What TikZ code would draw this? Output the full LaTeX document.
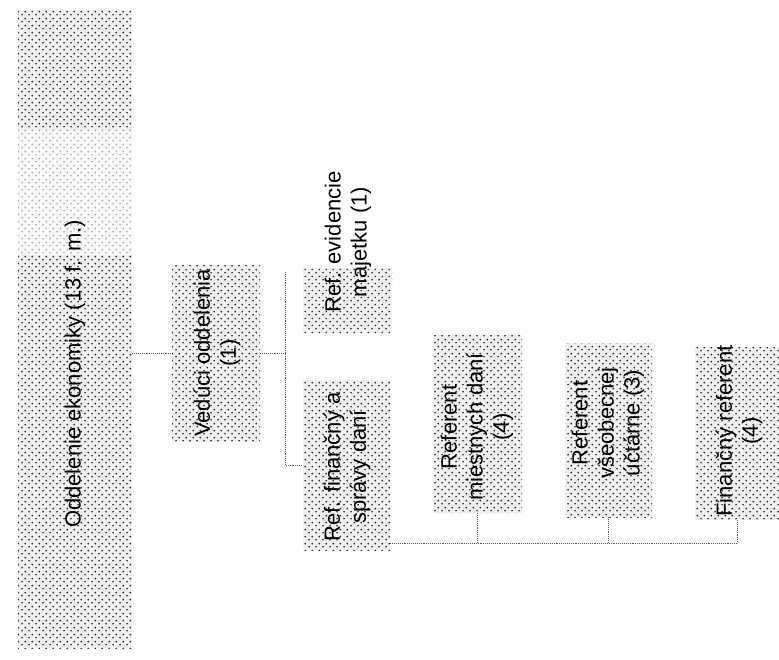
\documentclass[tikz,border=0pt]{standalone}
\usepackage{fontspec}
\setmainfont{Liberation Sans}
\usetikzlibrary{patterns.meta}
\tikzdeclarepattern{
  name=stipple, type=uncolored,
  bottom left={(0pt,0pt)}, top right={(7pt,7pt)}, tile size={(7pt,7pt)},
  code={\fill (1.2pt,1.5pt) circle (1.05pt); \fill (4.8pt,5.0pt) circle (1.05pt);}
}
\tikzset{
  box/.style={draw=none, inner sep=0pt, preaction={fill=gray!12}, pattern=stipple, pattern color=black!80},
  lbl/.style={rotate=90, align=center, font=\fontsize{22}{26}\selectfont, inner sep=0pt},
  link/.style={densely dotted, line width=0.9pt, black!65}
}
\begin{document}
\begin{tikzpicture}[x=1pt,y=-1pt]
\useasboundingbox (0,0) rectangle (779,659);
% boxes
\node[box, minimum width=114pt, minimum height=638pt] (main) at (75,329) {};
\fill[white, opacity=0.6] (18,130) rectangle (132,255);
\node[box, minimum width=88pt, minimum height=177pt] (ved) at (216,353.5) {};
\node[box, minimum width=89pt, minimum height=65pt] (evid) at (347.5,300.5) {};
\node[box, minimum width=87pt, minimum height=170pt] (fin) at (346.5,465) {};
\node[box, minimum width=89pt, minimum height=178pt] (miest) at (477.5,424) {};
\node[box, minimum width=87pt, minimum height=174pt] (vseob) at (608.5,430) {};
\node[box, minimum width=84pt, minimum height=173pt] (financ) at (737,433.5) {};
% labels
\node[lbl] (tmain) at (75,374) {Oddelenie ekonomiky (13 f. m.)};
\node[lbl] (tved) at (217,353) {Vedúci oddelenia\\(1)};
\node[lbl] (tevid) at (348,242) {Ref. evidencie\\majetku (1)};
\node[lbl] (tfin) at (347,467) {Ref. finančný a\\správy daní};
\node[lbl] (tmiest) at (477,427) {Referent\\miestnych daní\\(4)};
\node[lbl] (tvseob) at (608,423) {Referent\\všeobecnej\\účtárne (3)};
\node[lbl] (tfinanc) at (739,431) {Finančný referent\\(4)};
% connectors
\coordinate (bustop) at (285,272);
\coordinate (busy) at (0,543);
\draw[link] (ved.west -| main.east) -- (ved.west);
\draw[link] (ved.east) -- (ved.east -| bustop);
\draw[link] (bustop) -- (bustop |- fin.west) -- (fin.west);
\draw[link] (fin.east |- busy) -- (financ.south |- busy);
\draw[link] (miest.south) -- (miest.south |- busy);
\draw[link] (vseob.south) -- (vseob.south |- busy);
\draw[link] (financ.south) -- (financ.south |- busy);
\end{tikzpicture}
\end{document}
